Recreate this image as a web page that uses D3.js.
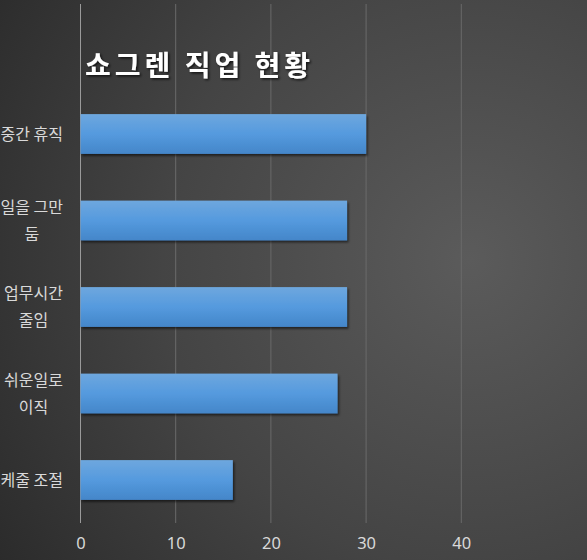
<!DOCTYPE html>
<html>
<head>
<meta charset="utf-8">
<script src="https://cdn.jsdelivr.net/npm/d3@7"></script>
<style>
  html, body { margin: 0; padding: 0; overflow: hidden; background: #3a3a3a; }
  svg { display: block; font-family: "Noto Sans CJK KR", "Noto Sans", sans-serif; }
</style>
</head>
<body>
<div class="chart"></div>
<script>
const categories = [ ["중간 휴직"], ["일을 그만", "둠"], ["업무시간", "줄임"], ["쉬운일로", "이직"], ["스케줄 조절"] ];
const values = [ 30, 28, 28, 27, 16 ];
const ticks = [ 0, 10, 20, 30, 40 ];
const title = "쇼그렌 직업 현황";

const width = 587;
const height = 560;

const svg = d3.select( ".chart" )
  .append( "svg" )
    .attr( "width", width )
    .attr( "height", height );

const defs = svg.append( "defs" );

const bg = defs.append( "radialGradient" )
  .attr( "id", "bg" )
  .attr( "gradientUnits", "userSpaceOnUse" )
  .attr( "cx", 470 ).attr( "cy", 260 ).attr( "r", 560 );
bg.append( "stop" ).attr( "offset", "0%" ).attr( "stop-color", "#5b5b5b" );
bg.append( "stop" ).attr( "offset", "55%" ).attr( "stop-color", "#444444" );
bg.append( "stop" ).attr( "offset", "100%" ).attr( "stop-color", "#2b2b2b" );

const barFill = defs.append( "linearGradient" )
  .attr( "id", "bar" )
  .attr( "x1", 0 ).attr( "y1", 0 ).attr( "x2", 0 ).attr( "y2", 1 );
barFill.append( "stop" ).attr( "offset", "0%" ).attr( "stop-color", "#6ea7de" );
barFill.append( "stop" ).attr( "offset", "50%" ).attr( "stop-color", "#559ade" );
barFill.append( "stop" ).attr( "offset", "100%" ).attr( "stop-color", "#4486c9" );

const shadow = defs.append( "filter" )
  .attr( "id", "shadow" )
  .attr( "x", "-10%" ).attr( "y", "-20%" ).attr( "width", "130%" ).attr( "height", "160%" );
shadow.append( "feDropShadow" )
  .attr( "dx", 1.5 ).attr( "dy", 2 ).attr( "stdDeviation", 1.2 )
  .attr( "flood-color", "#000" ).attr( "flood-opacity", 0.55 );

const tshadow = defs.append( "filter" ).attr( "id", "tshadow" );
tshadow.append( "feDropShadow" )
  .attr( "dx", 1.5 ).attr( "dy", 1.5 ).attr( "stdDeviation", 1.2 )
  .attr( "flood-color", "#000" ).attr( "flood-opacity", 0.7 );

svg.append( "rect" )
  .attr( "width", width )
  .attr( "height", height )
  .attr( "fill", "url(#bg)" );

const xScale = d3.scaleLinear()
  .domain( [ 0, 40 ] )
  .range( [ 80.5, 461.3 ] );

const yScale = d3.scaleBand()
  .domain( d3.range( categories.length ) )
  .range( [ 90.75, 523.25 ] )
  .paddingInner( 0.54 )
  .paddingOuter( 0.27 );

// gridlines
svg.append( "g" )
  .selectAll( "line" )
  .data( ticks )
  .enter()
    .append( "line" )
    .attr( "x1", d => xScale( d ) )
    .attr( "x2", d => xScale( d ) )
    .attr( "y1", 4 )
    .attr( "y2", 523 )
    .attr( "stroke", d => d === 0 ? "#9a9a9a" : "#6a6a6a" )
    .attr( "stroke-width", 1 );

const xAxis = d3.axisBottom( xScale )
  .tickValues( ticks )
  .tickSize( 0 )
  .tickPadding( 0 );

svg.append( "g" )
  .attr( "class", "x axis" )
  .attr( "transform", "translate(0, 537)" )
  .call( xAxis )
  .call( g => g.select( ".domain" ).remove() )
  .selectAll( "text" )
    .attr( "fill", "#d9d9d9" )
    .attr( "font-size", "16.5px" )
    .attr( "font-family", "'Noto Sans', sans-serif" );

// bars
svg.append( "g" )
  .selectAll( "rect" )
  .data( values )
  .enter()
    .append( "rect" )
    .attr( "x", xScale( 0 ) )
    .attr( "y", ( d, i ) => yScale( i ) )
    .attr( "width", d => xScale( d ) - xScale( 0 ) )
    .attr( "height", yScale.bandwidth() )
    .attr( "fill", "url(#bar)" )
    .attr( "filter", "url(#shadow)" );

// category labels, wrapped like the original
const lineH = 27;
const label = svg.append( "g" )
  .selectAll( "text" )
  .data( categories )
  .enter()
    .append( "text" )
    .attr( "text-anchor", "end" )
    .attr( "fill", "#d9d9d9" )
    .attr( "font-size", "16px" )
    .attr( "y", ( d, i ) => yScale( i ) + yScale.bandwidth() / 2 - ( d.length - 1 ) * lineH / 2 );

label.selectAll( "tspan" )
  .data( d => d )
  .enter()
    .append( "tspan" )
    .attr( "x", 63 )
    .attr( "dy", ( d, i ) => i === 0 ? "0.35em" : lineH )
    .text( d => d );

// second lines are centred under the first
label.each( function( d ) {
  if ( d.length < 2 ) return;
  const spans = d3.select( this ).selectAll( "tspan" ).nodes();
  const w0 = spans[ 0 ].getComputedTextLength();
  spans[ 1 ].setAttribute( "text-anchor", "middle" );
  spans[ 1 ].setAttribute( "x", 63 - w0 / 2 );
} );

svg.append( "text" )
  .attr( "x", 85 )
  .attr( "y", 76 )
  .attr( "fill", "#ffffff" )
  .attr( "font-size", "28px" )
  .attr( "font-weight", "bold" )
  .attr( "letter-spacing", "4px" )
  .attr( "filter", "url(#tshadow)" )
  .text( title );
</script>
</body>
</html>
